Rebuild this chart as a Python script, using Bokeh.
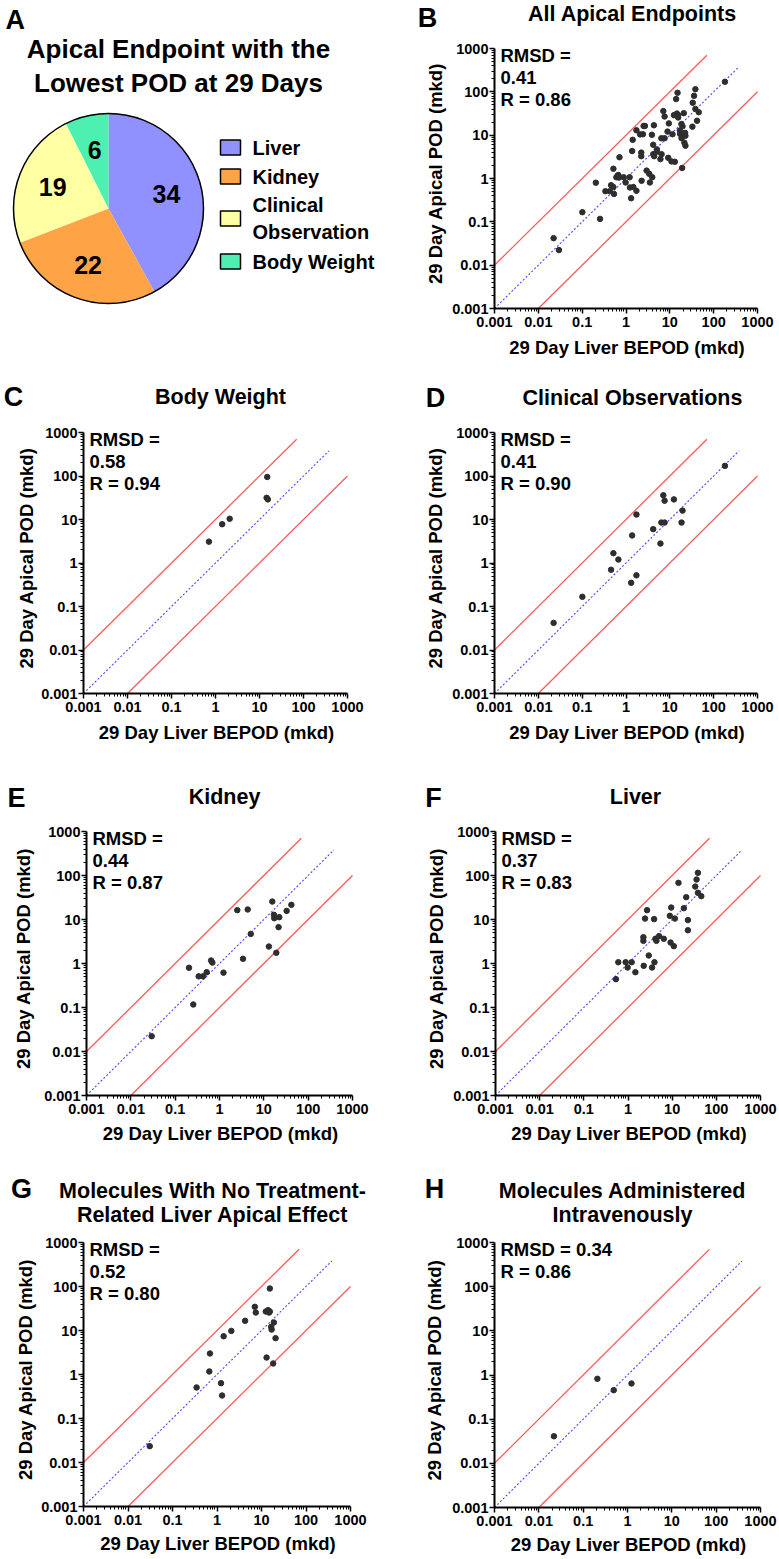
import math
from bokeh.plotting import figure
from bokeh.layouts import column, row
from bokeh.models import (Range1d, Label, FixedTicker, CustomJSTickFormatter, ColumnDataSource,
                          LogAxis)
from bokeh.embed import file_html
from bokeh.resources import INLINE
from bokeh.core.properties import value

FONT = "Liberation Sans"

# ---------------- data ----------------
pie_categories = ["Liver", "Kidney", "Clinical\nObservation", "Body Weight"]
pie_counts = [34, 22, 19, 6]
pie_colors = ["#9090ff", "#ffa347", "#ffffa3", "#4ef0b2"]

# Body weight (C)
bw_x = [0.71, 1.42, 2.1, 14.5, 15.0, 15.5]
bw_y = [3.1, 7.8, 10.4, 31.5, 95.0, 29.0]
# Clinical observations (D)
clin_x = [0.0223, 0.101, 0.457, 0.516, 0.67, 1.31, 1.73, 1.38, 1.73, 4.17,
          6.1, 6.4, 7.6, 7.1, 7.6, 12.4, 18.5, 19.5, 181]
clin_y = [0.042, 0.167, 0.70, 1.68, 1.2, 0.35, 0.52, 4.3, 13, 6.0,
          2.8, 8.5, 8.5, 36, 27, 29, 8.5, 16, 171]
# Kidney (E)
kid_x = [0.0295, 0.205, 0.256, 0.339, 0.425, 0.515, 0.647, 0.69, 1.23, 2.52,
         3.39, 4.33, 5.07, 13.0, 15.5, 16.9, 17.2, 19.1, 21.5, 22.3, 32.7, 41.8]
kid_y = [0.0223, 0.80, 0.117, 0.51, 0.51, 0.635, 1.17, 1.05, 0.62, 16.3,
         1.28, 16.9, 4.7, 2.43, 25.6, 12.8, 10.7, 1.75, 6.7, 11.3, 15.7, 21.5]
# Liver (F)
liv_x = [0.533, 0.603, 0.885, 0.98, 1.21, 1.47, 2.23, 2.23, 2.27, 2.43,
         2.7, 2.95, 3.51, 3.9, 3.97, 4.18, 4.4, 5.07, 6.47, 8.86,
         9.2, 9.5, 10.9, 11.5, 13.9, 18.4, 20.8, 22.7, 22.7, 33.3,
         35.7, 38.3, 38.3, 45.6]
liv_y = [0.44, 1.07, 1.07, 0.81, 1.07, 0.635, 3.96, 3.27, 0.885, 10.5,
         16.3, 1.52, 0.81, 10.2, 1.07, 3.64, 3.27, 4.18, 3.64, 12.1,
         3.0, 18.7, 2.48, 10.5, 68, 18.1, 32.2, 9.7, 5.7, 56,
         81, 115, 40.4, 33.9]
# No treatment-related liver apical effect (G)
noliv_x = [0.0308, 0.348, 0.671, 0.695, 1.23, 1.30, 1.41, 2.1, 4.28, 7.08, 7.45,
           12.5, 13.0, 14.1, 14.8, 15.4, 15.4, 16.5, 16.9, 18.3, 19.0, 20.7]
noliv_y = [0.0235, 0.507, 1.17, 3.0, 0.635, 0.333, 7.4, 9.8, 16.6, 34.5, 25.6,
           27, 2.43, 29, 25.6, 90, 27, 12.1, 10.5, 1.78, 15.2, 6.7]
# Intravenous (H)
iv_x = [0.0219, 0.209, 0.49, 1.23]
iv_y = [0.041, 0.82, 0.454, 0.643]
# All apical endpoints (B) = union of C, D, E, F
all_x = bw_x + clin_x + kid_x + liv_x
all_y = bw_y + clin_y + kid_y + liv_y

tick_values = [0.001, 0.01, 0.1, 1, 10, 100, 1000]
minor_values = [m * d for d in tick_values[:-1] for m in range(2, 10)]

# guide lines: y = fold * x over the given x span
guide_fold = [10, 1, 0.1]
guide_x0 = [0.001, 0.001, 0.01]
guide_x1 = [70, 380, 1000]
guide_color = ["#ff5a5a", "#4848ff", "#ff5a5a"]
guide_dash = ["solid", "2 2", "solid"]

# ---------------- helpers ----------------
def make_axis(kind):
    ax = LogAxis(fixed_location=0.001, bounds=(0.001, 1000),
                 ticker=FixedTicker(ticks=tick_values, minor_ticks=minor_values),
                 formatter=CustomJSTickFormatter(
                     code="return tick < 1 ? tick.toString() : tick.toFixed(0);"))
    ax.axis_line_width = 2
    ax.axis_line_color = "black"
    ax.major_tick_line_width = 1.5
    ax.minor_tick_line_width = 1
    ax.major_tick_in = 0
    ax.minor_tick_in = 0
    ax.major_tick_out = 5
    ax.minor_tick_out = 3
    ax.major_label_text_font = FONT
    ax.major_label_text_font_style = "bold"
    ax.major_label_text_font_size = "14.5px"
    ax.major_label_text_color = "black"
    ax.major_label_standoff = 3 if kind == "x" else 1
    return ax


def lbl(p, fx, fy, H, x, y, text, size, align="center", baseline="middle", angle=0.0):
    p.add_layout(Label(x=x - fx, y=fy + H - y, x_units="screen", y_units="screen",
                       text=text, text_font=FONT, text_font_style="bold",
                       text_font_size=f"{size}px", text_align=align,
                       text_baseline=baseline, angle=angle, text_color="black"))


def scatter_panel(fig_box, frame_box, letter, letter_xy, titles, title_x, title_y0,
                  xs, ys, stats, ylab_x, xlab_dy):
    fx, fy, W, H = fig_box
    fl, ft, fr, fb = frame_box
    ppx = (fr - fl) / 6.0
    ppy = (fb - ft) / 6.0
    xr = Range1d(10 ** (-3 - (fl - fx) / ppx), 10 ** (3 + (fx + W - fr) / ppx))
    yr = Range1d(10 ** (-3 - (fy + H - fb) / ppy), 10 ** (3 + (ft - fy) / ppy))
    p = figure(width=W, height=H, x_axis_type="log", y_axis_type="log",
               x_range=xr, y_range=yr, x_axis_location=None, y_axis_location=None,
               min_border=0, title=None,
               output_backend="svg", toolbar_location=None, outline_line_color=None)
    p.grid.visible = False
    p.add_layout(make_axis("x"), "below")
    p.add_layout(make_axis("y"), "left")

    for f, x0, x1, c, d in zip(guide_fold, guide_x0, guide_x1, guide_color, guide_dash):
        p.line(x=[x0, x1], y=[f * x0, f * x1], line_color=c,
               line_width=1.3 if d == "solid" else 1.1, line_dash=d)
    p.scatter(x=xs, y=ys, size=5.5, fill_color="#2e2e2e", line_color="#2e2e2e")

    lbl(p, fx, fy, H, letter_xy[0], letter_xy[1], letter, 27)
    for i, t in enumerate(titles):
        lbl(p, fx, fy, H, title_x, title_y0 + 24 * i, t, 21.5)
    for i, s in enumerate(stats):
        lbl(p, fx, fy, H, fl + 6, ft + 7 + 22 * i, s, 18.5, align="left")
    lbl(p, fx, fy, H, ylab_x, (ft + fb) / 2 - 5, "29 Day Apical POD (mkd)", 18.5,
        angle=math.pi / 2)
    lbl(p, fx, fy, H, (fl + fr) / 2 + 1, fb + xlab_dy, "29 Day Liver BEPOD (mkd)", 18.5)
    return p

# ---------------- panel A (pie) ----------------
PCX, PCY, PR = 108, 208, 95
A_W, A_H = 389, 375
pA = figure(width=A_W, height=A_H, x_range=Range1d(0 - PCX, A_W - PCX),
            y_range=Range1d(PCY - A_H, PCY), min_border=0, title=None,
            x_axis_location=None, y_axis_location=None,
            output_backend="svg", toolbar_location=None, outline_line_color=None)
pA.grid.visible = False

total = sum(pie_counts)
starts, ends, mids = [], [], []
cum = 0
for c in pie_counts:
    a0 = math.pi / 2 - 2 * math.pi * cum / total
    cum += c
    a1 = math.pi / 2 - 2 * math.pi * cum / total
    starts.append(a0)
    ends.append(a1)
    mids.append((a0 + a1) / 2)

pie_src = ColumnDataSource(dict(start=starts, end=ends, color=pie_colors,
                                lx=[0.63 * PR * math.cos(m) for m in mids],
                                ly=[0.63 * PR * math.sin(m) for m in mids],
                                label=[str(c) for c in pie_counts]))
pA.wedge(x=0, y=0, radius=PR, start_angle="start", end_angle="end", direction="clock",
         fill_color="color", line_color=None, source=pie_src)
pA.circle(x=[0], y=[0], radius=PR, fill_color=None, line_color="black", line_width=1.5)
pA.text(x="lx", y="ly", text="label", source=pie_src, text_font=value(FONT),
        text_font_style="bold", text_font_size="25px", text_align="center",
        text_baseline="middle", text_color="black")

legend_y_page = [147, 176, 218, 261]
leg_src = ColumnDataSource(dict(y=[PCY - v for v in legend_y_page], color=pie_colors,
                                name=pie_categories))
pA.rect(x=230 - PCX, y="y", width=20, height=15, fill_color="color", line_color="black",
        line_width=1.5, source=leg_src)
pA.text(x=252 - PCX, y="y", text="name", source=leg_src, text_font=value(FONT),
        text_font_style="bold", text_font_size="20px", text_align="left",
        text_baseline="middle", text_color="black", text_line_height=1.25)

for txt, xx, yy, sz, al in [("A", 5, 19, 27, "left"),
                            ("Apical Endpoint with the", 178, 48, 26, "center"),
                            ("Lowest POD at 29 Days", 178, 82, 26, "center")]:
    pA.add_layout(Label(x=xx - PCX, y=PCY - yy, text=txt, text_font=FONT, text_font_style="bold",
                        text_font_size=f"{sz}px", text_align=al, text_baseline="middle",
                        text_color="black"))

# ---------------- scatter panels ----------------
pB = scatter_panel((389, 0, 390, 375), (494, 48, 757, 308), "B", (427, 17),
                   ["All Apical Endpoints"], 632, 13,
                   all_x, all_y, ["RMSD =", "0.41", "R = 0.86"], 435, 39)
pC = scatter_panel((0, 375, 389, 395), (83, 432, 347, 693), "C", (13, 396),
                   ["Body Weight"], 220, 396,
                   bw_x, bw_y, ["RMSD =", "0.58", "R = 0.94"], 26, 39)
pD = scatter_panel((389, 375, 390, 395), (494, 432, 757, 693), "D", (435, 397),
                   ["Clinical Observations"], 632, 397,
                   clin_x, clin_y, ["RMSD =", "0.41", "R = 0.90"], 435, 39)
pE = scatter_panel((0, 770, 389, 390), (86, 831, 352, 1095), "E", (16, 797),
                   ["Kidney"], 224, 796,
                   kid_x, kid_y, ["RMSD =", "0.44", "R = 0.87"], 23, 38)
pF = scatter_panel((389, 770, 390, 390), (495, 831, 760, 1095), "F", (433, 797),
                   ["Liver"], 635, 796,
                   liv_x, liv_y, ["RMSD =", "0.37", "R = 0.83"], 436, 38)
pG = scatter_panel((0, 1160, 389, 399), (83, 1242, 350, 1506), "G", (21, 1188),
                   ["Molecules With No Treatment-", "Related Liver Apical Effect"], 212, 1190,
                   noliv_x, noliv_y, ["RMSD =", "0.52", "R = 0.80"], 25, 37)
pH = scatter_panel((389, 1160, 390, 399), (494, 1242, 760, 1507), "H", (434, 1188),
                   ["Molecules Administered", "Intravenously"], 622, 1190,
                   iv_x, iv_y, ["RMSD = 0.34", "R = 0.86"], 434, 37)

layout = column(row(pA, pB), row(pC, pD), row(pE, pF), row(pG, pH))
open("out.html", "w").write(file_html(layout, INLINE))
